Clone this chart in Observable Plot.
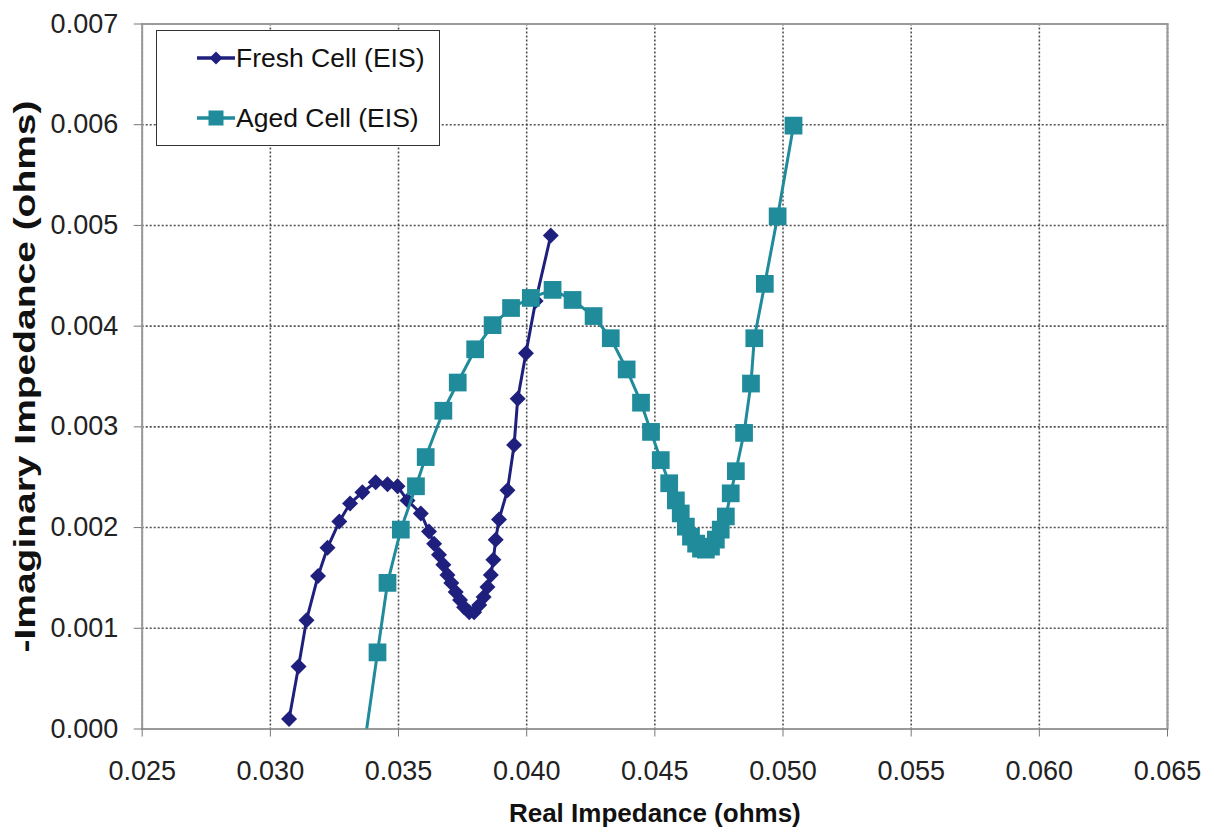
<!DOCTYPE html>
<html>
<head>
<meta charset="utf-8">
<script src="https://cdn.jsdelivr.net/npm/d3@7"></script>
<script src="https://cdn.jsdelivr.net/npm/@observablehq/plot@0.6"></script>
<style>
  html, body { margin: 0; padding: 0; background: #fff; }
  #wrap { position: relative; width: 1214px; height: 835px; font-family: "Liberation Sans", Arial, sans-serif; }
  #legend { position: absolute; left: 156px; top: 30px; width: 284px; height: 116px; border: 1.5px solid #333; background: #fff; box-sizing: border-box; }
  .lg-row { position: absolute; left: 40px; height: 30px; display: flex; align-items: center; font-size: 26.5px; color: #111; white-space: nowrap; }
  .lg-row svg { margin-right: 1px; }
</style>
</head>
<body>
<div id="wrap"></div>
<script>
// Fresh cell EIS (real, -imaginary), ohms
const freshReal = [0.03073,0.03110,0.03141,0.03186,0.03223,0.03269,0.03311,0.03359,0.03411,0.03457,0.03496,0.03535,
  0.03587,0.03619,0.03639,0.03658,0.03675,0.03691,0.03706,0.03723,0.03740,0.03756,0.03776,0.03795,
  0.03815,0.03832,0.03847,0.03860,0.03870,0.03879,0.03892,0.03925,0.03951,0.03965,0.03997,0.04035,0.04094];
const freshImag = [0.00010,0.00062,0.00108,0.00152,0.00180,0.00206,0.00224,0.00235,0.00245,0.00243,0.00241,0.00227,
  0.00214,0.00196,0.00184,0.00173,0.00163,0.00153,0.00145,0.00136,0.00128,0.00121,0.00116,0.00116,
  0.00123,0.00131,0.00141,0.00153,0.00168,0.00188,0.00208,0.00237,0.00282,0.00328,0.00373,0.00425,0.00490];
// Aged cell EIS (first point lies just below the axis and is clipped)
const agedReal = [0.03359,0.03418,0.03457,0.03509,0.03568,0.03606,0.03675,0.03731,0.03799,0.03867,0.03939,0.04016,0.04101,
  0.04179,0.04261,0.04328,0.04390,0.04446,0.04485,0.04523,0.04556,0.04582,0.04601,0.04621,0.04641,
  0.04661,0.04680,0.04699,0.04719,0.04738,0.04757,0.04777,0.04796,0.04816,0.04848,0.04875,0.04888,
  0.04929,0.04979,0.05041];
const agedImag = [-0.00030,0.00076,0.00145,0.00198,0.00241,0.00270,0.00316,0.00344,0.00377,0.00401,0.00418,0.00428,0.00436,
  0.00426,0.00410,0.00388,0.00357,0.00324,0.00295,0.00267,0.00244,0.00227,0.00214,0.00201,0.00191,
  0.00184,0.00179,0.00178,0.00181,0.00188,0.00198,0.00211,0.00234,0.00256,0.00294,0.00343,0.00388,
  0.00442,0.00509,0.00599];
const xTicks = [0.025,0.030,0.035,0.040,0.045,0.050,0.055,0.060,0.065];
const yTicks = [0.000,0.001,0.002,0.003,0.004,0.005,0.006,0.007];
const seriesNames = ["Fresh Cell (EIS)", "Aged Cell (EIS)"];
const xLabel = "Real Impedance (ohms)";
const yLabel = "-Imaginary Impedance (ohms)";

const freshColor = "#1f1f7d";
const agedColor = "#1f8b9b";

const fresh = freshReal.map((x, i) => ({x, y: freshImag[i]}));
const aged = agedReal.map((x, i) => ({x, y: agedImag[i]}));
const fmt = d3.format(".3f");

const chart = Plot.plot({
  width: 1214,
  height: 835,
  marginLeft: 141.7,
  marginRight: 47,
  marginTop: 23.5,
  marginBottom: 106.5,
  style: {fontFamily: "'Liberation Sans', Arial, sans-serif", fontSize: "27px", color: "#222", background: "#fff"},
  x: {domain: [0.025, 0.065]},
  y: {domain: [0, 0.007]},
  marks: [
    Plot.gridX(xTicks, {stroke: "#333", strokeOpacity: 0.85, strokeWidth: 1.6, strokeDasharray: "2,2"}),
    Plot.gridY(yTicks, {stroke: "#333", strokeOpacity: 0.85, strokeWidth: 1.6, strokeDasharray: "2,2"}),
    Plot.frame({stroke: "#9a9a9a", strokeWidth: 2}),
    Plot.axisX({ticks: xTicks, tickFormat: fmt, tickSize: 8, tickPadding: 24, stroke: "#777",
      label: xLabel, labelArrow: "none", labelAnchor: "center", labelOffset: 93}),
    Plot.axisY({ticks: yTicks, tickFormat: fmt, tickSize: 8, tickPadding: 16, stroke: "#777",
      label: yLabel, labelArrow: "none", labelAnchor: "center", labelOffset: 128}),
    Plot.line(fresh, {x: "x", y: "y", stroke: freshColor, strokeWidth: 3, clip: true}),
    Plot.dot(fresh, {x: "x", y: "y", symbol: "diamond2", fill: freshColor, stroke: "none", r: 7.2, clip: true}),
    Plot.line(aged, {x: "x", y: "y", stroke: agedColor, strokeWidth: 3, clip: true}),
    Plot.dot(aged, {x: "x", y: "y", symbol: "square", fill: agedColor, stroke: "none", r: 10, clip: true})
  ]
});
const svgSel = d3.select(chart);
svgSel.selectAll("g[aria-label='x-axis label'] text").each(function() {
  d3.select(this).text(xLabel).style("font-weight", "bold").style("fill", "#111").style("font-size", "26px");
});
svgSel.selectAll("g[aria-label='y-axis label'] text").each(function() {
  d3.select(this).text(yLabel).style("font-weight", "bold").style("fill", "#111").style("font-size", "29px")
    .attr("textLength", 552).attr("lengthAdjust", "spacingAndGlyphs");
});

const wrap = document.getElementById("wrap");
wrap.appendChild(chart);

// Legend
const legend = document.createElement("div");
legend.id = "legend";
wrap.appendChild(legend);
const lgSymbols = [
  {color: freshColor, shape: "diamond", top: 12},
  {color: agedColor, shape: "square", top: 72}
];
seriesNames.forEach((name, i) => {
  const s = lgSymbols[i];
  const row = document.createElement("div");
  row.className = "lg-row";
  row.style.top = s.top + "px";
  const ns = "http://www.w3.org/2000/svg";
  const svg = document.createElementNS(ns, "svg");
  svg.setAttribute("width", 38); svg.setAttribute("height", 30);
  const ln = document.createElementNS(ns, "line");
  ln.setAttribute("x1", 0); ln.setAttribute("x2", 38); ln.setAttribute("y1", 15); ln.setAttribute("y2", 15);
  ln.setAttribute("stroke", s.color); ln.setAttribute("stroke-width", 3.5);
  svg.appendChild(ln);
  const sym = document.createElementNS(ns, "path");
  sym.setAttribute("d", s.shape === "diamond" ? "M19,8.5L25.5,15L19,21.5L12.5,15Z" : "M11.5,7.5H26.5V22.5H11.5Z");
  sym.setAttribute("fill", s.color);
  svg.appendChild(sym);
  row.appendChild(svg);
  const t = document.createElement("span");
  t.textContent = name;
  row.appendChild(t);
  legend.appendChild(row);
});
</script>
</body>
</html>
